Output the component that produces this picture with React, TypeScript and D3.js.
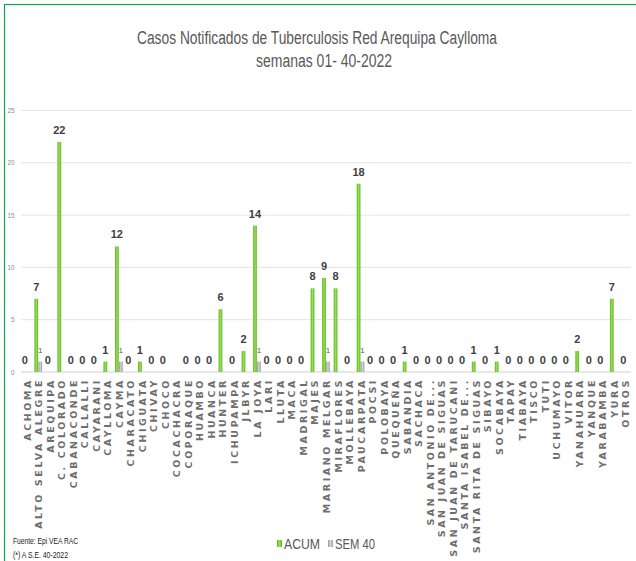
import React from "react"
import * as d3 from "d3"

const categories = [
	"ACHOMA", "ALTO SELVA ALEGRE", "AREQUIPA", "C. COLORADO", "CABANACONDE", "CALLALLI",
	"CAYARANI", "CAYLLOMA", "CAYMA", "CHARACATO", "CHIGUATA", "CHIVAY", "CHOCO",
	"COCACHACRA", "COPORAQUE", "HUAMBO", "HUANCA", "HUNTER", "ICHUPAMPA", "JLBYR",
	"LA JOYA", "LARI", "LLUTA", "MACA", "MADRIGAL", "MAJES", "MARIANO MELGAR",
	"MIRAFLORES", "MOLLEBAYA", "PAUCARPATA", "POCSI", "POLOBAYA", "QUEQUEÑA",
	"SABANDIA", "SACHACA", "SAN ANTONIO DE...", "SAN JUAN DE SIGUAS",
	"SAN JUAN DE TARUCANI", "SANTA ISABEL DE...", "SANTA RITA DE SIGUAS", "SIBAYO",
	"SOCABAYA", "TAPAY", "TIABAYA", "TISCO", "TUTI", "UCHUMAYO", "VITOR", "YANAHUARA",
	"YANQUE", "YARABAMBA", "YURA", "OTROS",
]

const acum: (number | null)[] = [
	0, 7, 0, 22, 0, 0, 0, 1, 12, 0, 1, 0, 0, null, 0, 0, 0, 6, 0, 2, 14, 0, 0, 0, 0, 8, 9,
	8, 0, 18, 0, 0, 0, 1, 0, 0, 0, 0, 0, 1, 0, 1, 0, 0, 0, 0, 0, 0, 2, 0, 0, 7, 0,
]

const sem40: (number | null)[] = categories.map((c) =>
	["ALTO SELVA ALEGRE", "CAYMA", "LA JOYA", "MARIANO MELGAR", "PAUCARPATA"].includes(c) ? 1 : null
)

const series = ["ACUM", "SEM 40"]
const yTicks = [0, 5, 10, 15, 20, 25]

const W = 636
const H = 561
const sans = "'Liberation Sans', Arial, sans-serif"

// narrow text: squeeze Liberation Sans to a given length
const Narrow = ({ x, y, len, size, fill = "#595959", anchor = "start", children }: any) => (
	<text
		x={x}
		y={y}
		textAnchor={anchor}
		fontFamily={sans}
		fontSize={size}
		fill={fill}
		textLength={len}
		lengthAdjust="spacingAndGlyphs"
	>
		{children}
	</text>
)

const App = () => {
	const x = d3.scaleBand<string>().domain(categories).range([21, 631]).paddingInner(0.3).paddingOuter(0.15)
	const xs = d3.scaleBand<string>().domain(series).range([0, x.bandwidth()]).padding(0.05)
	const y = d3.scaleLinear().domain([0, 25]).range([372, 110.5])

	const cols = [acum, sem40]

	return (
		<svg width={W} height={H} style={{ display: "block", position: "absolute", left: 0, top: 0 }}>
			<defs>
				<linearGradient id="gGreen" x1="0" x2="1" y1="0" y2="0">
					<stop offset="0" stopColor="#5cb31c" />
					<stop offset="0.5" stopColor="#96e255" />
					<stop offset="1" stopColor="#5cb31c" />
				</linearGradient>
				<linearGradient id="gGray" x1="0" x2="1" y1="0" y2="0">
					<stop offset="0" stopColor="#999" />
					<stop offset="0.5" stopColor="#d6d6d6" />
					<stop offset="1" stopColor="#999" />
				</linearGradient>
			</defs>
			<rect x={0} y={0} width={W} height={H} fill="#fff" />
			<rect x={4.5} y={4.5} width={W + 10} height={H + 10} fill="none" stroke="#00b050" strokeWidth={1.2} />

			<Narrow x={137} y={44} len={360} size={18}>
				Casos Notificados de Tuberculosis Red Arequipa Caylloma
			</Narrow>
			<Narrow x={256} y={67} len={136} size={18}>
				semanas 01- 40-2022
			</Narrow>

			{yTicks.map((t) => (
				<g key={t}>
					<line x1={21} x2={631} y1={y(t)} y2={y(t)} stroke={t === 0 ? "#d0d0d0" : "#e3e3e3"} strokeWidth={1} />
					<Narrow x={14.5} y={y(t) + 2.5} anchor="end" len={t < 10 ? 3.5 : 7} size={8} fill="#8a8a8a">
						{t}
					</Narrow>
				</g>
			))}

			{categories.map((c, i) => (
				<g key={c} transform={`translate(${x(c)},0)`}>
					{cols.map((vals, s) => {
						const v = vals[i]
						if (v == null) return null
						const bx = xs(series[s]) as number
						return (
							<g key={s}>
								<rect
									x={bx}
									y={y(v)}
									width={xs.bandwidth()}
									height={y(0) - y(v)}
									fill={s === 0 ? "url(#gGreen)" : "url(#gGray)"}
								/>
								<text
									x={bx + xs.bandwidth() / 2}
									y={y(v) - (s === 0 ? 8 : 9)}
									textAnchor="middle"
									fontFamily={sans}
									fontWeight={s === 0 ? "bold" : "normal"}
									fontSize={s === 0 ? 11 : 8}
									fill={s === 0 ? "#404040" : "#595959"}
								>
									{v}
								</text>
							</g>
						)
					})}
					<text
						transform={`translate(${x.bandwidth() / 2 + 4},378) rotate(-90)`}
						textAnchor="end"
						fontFamily="'DejaVu Sans', sans-serif"
						fontWeight="bold"
						fontSize={9.5}
						letterSpacing={2.6}
						fill="#6e6e6e"
					>
						{c}
					</text>
				</g>
			))}

			<rect x={277} y={540} width={5} height={7} fill="url(#gGreen)" />
			<Narrow x={284} y={549} len={36} size={15.5}>ACUM</Narrow>
			<rect x={328} y={540} width={5} height={7} fill="url(#gGray)" />
			<Narrow x={335} y={549} len={40} size={15.5}>SEM 40</Narrow>

			<Narrow x={13} y={544} len={65} size={9.5} fill="#222">Fuente: Epi VEA RAC</Narrow>
			<Narrow x={13} y={558} len={55} size={9.5} fill="#222">(*) A S.E. 40-2022</Narrow>
		</svg>
	)
}

export default App
